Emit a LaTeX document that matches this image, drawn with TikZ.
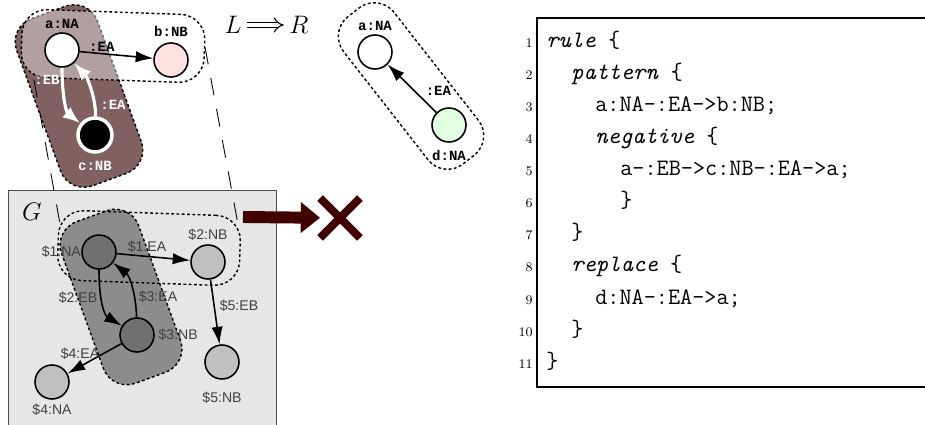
\documentclass[tikz,border=0pt]{standalone}
\usepackage{fontspec}
\newfontfamily\monolabel{Liberation Mono}
\newfontfamily\sanslabel{Liberation Sans}
\usepackage{xcolor}
\usetikzlibrary{arrows.meta,positioning,shapes.misc}

\definecolor{negbrown}{RGB}{128,96,96}
\definecolor{pinkb}{RGB}{255,224,224}
\definecolor{greend}{RGB}{226,255,226}
\definecolor{boxgray}{RGB}{230,230,230}
\definecolor{gdark}{RGB}{112,112,112}
\definecolor{glight}{RGB}{192,192,192}
\definecolor{gneg}{RGB}{140,140,140}
\definecolor{darkred}{RGB}{64,0,0}
\definecolor{txtgray}{RGB}{64,64,64}

\newcommand{\keyw}[1]{\textit{#1}}

\begin{document}
\begin{tikzpicture}[x=0.02cm,y=-0.02cm,
	vtx/.style={circle,draw,line width=0.9pt,minimum size=0.68cm,inner sep=0pt},
	lbl/.style={font=\monolabel\bfseries\fontsize{8}{9}\selectfont,inner sep=1pt},
	glbl/.style={font=\sanslabel\fontsize{8}{9}\selectfont,text=txtgray,inner sep=0pt},
	region/.style={draw,line width=0.8pt,dash pattern=on 1.6pt off 1.4pt,rounded corners=0.5cm,inner sep=0pt},
	barr/.style={line width=0.9pt,-{Latex[length=10pt,width=6.5pt]}},
	warr/.style={draw=white,line width=1.8pt,-{Latex[length=10pt,width=7.5pt]}},
	proj/.style={line width=0.5pt,dash pattern=on 10pt off 8pt},
	big/.style={font=\fontsize{14.4}{16}\selectfont,inner sep=0pt},
	code/.style={font=\ttfamily\fontsize{13.4}{16}\selectfont,anchor=base west,inner sep=0pt},
	lnum/.style={font=\fontsize{7.5}{9}\selectfont,anchor=base east,inner sep=0pt}]
	\useasboundingbox (0,0) rectangle (925,425);
	
	% Regra L
	\node[region,fill=negbrown,minimum width=3.56cm,minimum height=1.72cm,rotate=-70] (neg) at (79,96) {};
	\node[region,fill=white,fill opacity=0.4,minimum width=3.66cm,minimum height=1.36cm,rotate=-2] (pat) at (113,46) {};
	
	\node[vtx,fill=white] (a) at (62,50) {};
	\node[vtx,fill=pinkb] (b) at (171,60) {};
	\node[vtx,fill=black,draw=white,line width=2pt] (c) at (95,135) {};
	
	\node[lbl,above=1pt of a] (a-name) {a:NA};
	\node[lbl,above=2pt of b] (b-name) {b:NB};
	\node[lbl,text=white,below=3pt of c] (c-name) {c:NB};
	
	\draw[barr] (a) -- (b) node[lbl,pos=0.3,above] (ab-name) {:EA};
	\draw[warr] (a) .. controls (62,95) and (66,112) .. (c);
	\draw[warr] (c) .. controls (96,100) and (88,78) .. (a);
	\node[lbl,text=white] (ac-name) at (47,80) {:EB};
	\node[lbl,text=white] (ca-name) at (113,105) {:EA};
	
	% L => R
	\node[big,inner sep=3pt] (lside) at (233,25) {$L$};
	\node[big,inner sep=3pt] (rside) at (299,25) {$R$};
	\draw[double,double distance=2.4pt,line width=0.6pt,-{Implies}] (lside) -- (rside);
	
	% Regra R
	\node[region,minimum width=3.74cm,minimum height=1.28cm,rotate=-52] (rpat) at (411,86) {};
	\node[vtx,fill=white] (ra) at (375,52) {};
	\node[vtx,fill=greend] (rd) at (449,125) {};
	\node[lbl,above=1pt of ra] (ra-name) {a:NA};
	\node[lbl,below=3pt of rd] (rd-name) {d:NA};
	\draw[barr] (rd) -- (ra) node[lbl,pos=0.45,right=5pt] (da-name) {:EA};
	
	% Grafo G
	\draw[draw=black!70,fill=boxgray] (8,190) rectangle (276,440);
	\node[big] (gname) at (32,212) {$G$};
	
	\node[region,fill=gneg,minimum width=3.44cm,minimum height=1.64cm,rotate=-70] (gneg) at (121,297) {};
	\node[region,minimum width=3.64cm,minimum height=1.4cm,rotate=-2] (gpat) at (149,248) {};
	
	\node[vtx,fill=gdark] (g1) at (99,252) {};
	\node[vtx,fill=glight] (g2) at (208,262) {};
	\node[vtx,fill=gdark] (g3) at (137,335) {};
	\node[vtx,fill=glight] (g4) at (52,382) {};
	\node[vtx,fill=glight] (g5) at (222,362) {};
	
	\node[glbl,left=0pt of g1] (g1-name) {\$1:NA};
	\node[glbl,above=2pt of g2] (g2-name) {\$2:NB};
	\node[glbl,right=2pt of g3] (g3-name) {\$3:NB};
	\node[glbl,below=2pt of g4] (g4-name) {\$4:NA};
	\node[glbl,below=7pt of g5] (g5-name) {\$5:NB};
	
	\draw[barr] (g1) -- (g2);
	\draw[barr] (g1) .. controls (99,300) and (104,315) .. (g3);
	\draw[barr] (g3) .. controls (136,295) and (130,276) .. (g1);
	\draw[barr] (g2) -- (g5);
	\draw[barr] (g3) -- (g4);
	\node[glbl] (e1-name) at (147,247) {\$1:EA};
	\node[glbl] (e2-name) at (78,298) {\$2:EB};
	\node[glbl] (e3-name) at (158,297) {\$3:EA};
	\node[glbl] (e4-name) at (80,354) {\$4:EA};
	\node[glbl] (e5-name) at (239,306) {\$5:EB};
	
	% Projecao
	\coordinate (pl1) at (34,80);
	\coordinate (pl2) at (62,235);
	\coordinate (pr1) at (205,47);
	\coordinate (pr2) at (240,235);
	\draw[proj] (pl1) -- (pl2);
	\draw[proj] (pr1) -- (pr2);
	
	% Sem casamento
	\coordinate (xstart) at (243,217);
	\node[cross out,draw=darkred,line width=4.5pt,minimum size=0.64cm,inner sep=0pt] (nomatch) at (340,218) {};
	\draw[draw=darkred,line width=6.8pt,-{Triangle[length=11pt,width=17pt]}] (xstart) -- (nomatch);
	
	% Codigo
	\draw[line width=0.6pt] (940,18) -- (537,18) -- (537,387) -- (940,387);
	\foreach \n in {1,...,11}
		\node[lnum] (ln\n) at (533,{16+32*\n}) {\n};
	\node[code] (l1) at (546,48) {\keyw{rule} \{};
	\node[code] (l2) at (571,80) {\keyw{pattern} \{};
	\node[code] (l3) at (595,112) {a:NA-:EA->b:NB;};
	\node[code] (l4) at (595,144) {\keyw{negative} \{};
	\node[code] (l5) at (620,176) {a-:EB->c:NB-:EA->a;};
	\node[code] (l6) at (620,208) {\}};
	\node[code] (l7) at (571,240) {\}};
	\node[code] (l8) at (571,272) {\keyw{replace} \{};
	\node[code] (l9) at (595,304) {d:NA-:EA->a;};
	\node[code] (l10) at (571,336) {\}};
	\node[code] (l11) at (546,368) {\}};
\end{tikzpicture}
\end{document}
